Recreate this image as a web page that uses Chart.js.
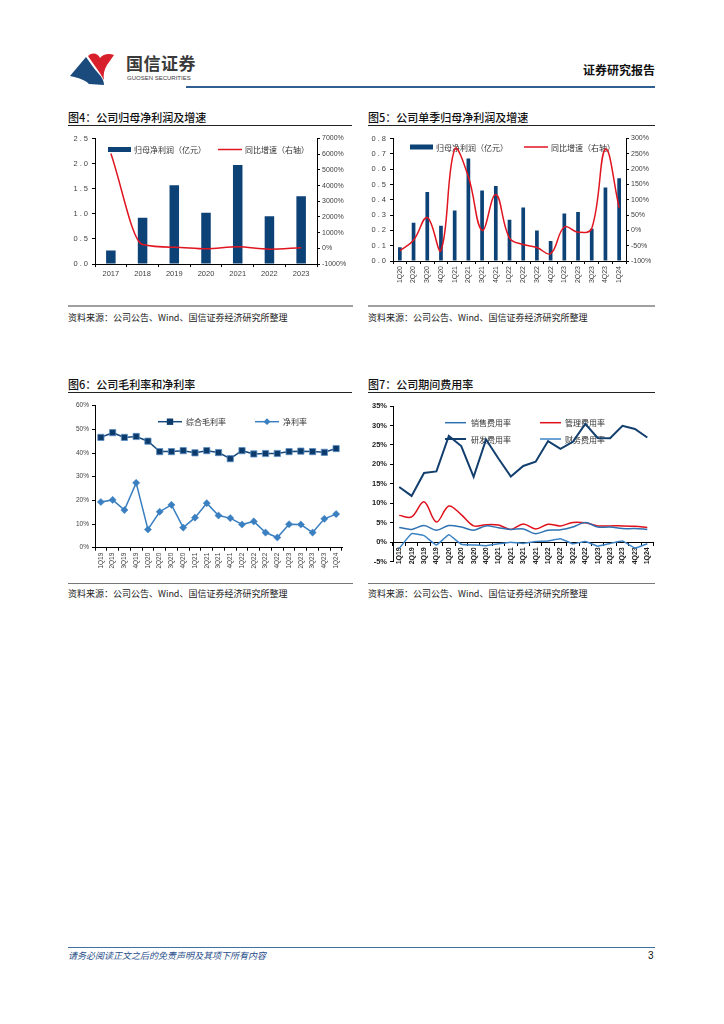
<!DOCTYPE html>
<html>
<head>
<meta charset="utf-8">
<script src="https://cdn.jsdelivr.net/npm/chart.js@4.4.1/dist/chart.umd.min.js"></script>
<style>
body { margin: 0; width: 724px; height: 1024px; position: relative; overflow: hidden; background: #fff; font-family: "Noto Sans CJK SC", sans-serif; }
.abs { position: absolute; white-space: nowrap; }
.title { font-size: 11px; font-weight: 500; color: #111; line-height: 16px; }
.rule { height: 1px; background: #222; }
.src-rule-a { height: 2px; background: #a0a0a0; }
.src-rule-b { height: 1px; background: #777; }
.src { font-size: 9px; color: #222; line-height: 12px; }
canvas { position: absolute; }
</style>
</head>
<body>

<!-- header -->
<svg class="abs" style="left:68px;top:50px" width="50" height="38" viewBox="68 50 50 38">
  <path d="M70,76 L86,57 C90,62 93,68 98,73 C102,77 104,81 104,85 L89,84 C85,80 79,78 70,76 Z" fill="#1b4a7c"/>
  <path d="M88,56 C92,52 98,53 100,58 C103,54 109,53 114,55 L107,65 C104,70 103,75 104,80 C100,72 94,65 88,56 Z" fill="#d8202c"/>
</svg>
<div class="abs" style="left:126px;top:52px;font-size:17px;font-weight:bold;color:#3a3a3a;letter-spacing:0.5px;line-height:22px">国信证券</div>
<div class="abs" style="left:127px;top:74px;font-size:6px;color:#3a3a3a;font-family:'Liberation Sans',Arial;line-height:8px">GUOSEN SECURITIES</div>
<div class="abs" style="left:583px;top:62px;font-size:12px;font-weight:bold;color:#111;line-height:16px">证券研究报告</div>
<div class="abs" style="left:186px;top:86px;width:469px;height:2px;background:#2d5f91"></div>

<!-- chart 4 / 5 titles -->
<div class="abs title" style="left:68px;top:109px">图4：公司归母净利润及增速</div>
<div class="abs rule" style="left:68px;top:125px;width:284px"></div>
<div class="abs title" style="left:368px;top:109px">图5：公司单季归母净利润及增速</div>
<div class="abs rule" style="left:368px;top:125px;width:287px"></div>

<canvas id="c4" width="300" height="165" style="left:60px;top:130px"></canvas>
<canvas id="c5" width="300" height="165" style="left:360px;top:130px"></canvas>

<div class="abs src-rule-a" style="left:68px;top:305px;width:285px"></div>
<div class="abs src" style="left:68px;top:312px">资料来源：公司公告、Wind、国信证券经济研究所整理</div>
<div class="abs src-rule-a" style="left:368px;top:305px;width:287px"></div>
<div class="abs src" style="left:368px;top:312px">资料来源：公司公告、Wind、国信证券经济研究所整理</div>

<!-- chart 6 / 7 titles -->
<div class="abs title" style="left:68px;top:376px">图6：公司毛利率和净利率</div>
<div class="abs rule" style="left:68px;top:392px;width:284px"></div>
<div class="abs title" style="left:368px;top:376px">图7：公司期间费用率</div>
<div class="abs rule" style="left:368px;top:392px;width:287px"></div>

<canvas id="c6" width="300" height="185" style="left:60px;top:395px"></canvas>
<canvas id="c7" width="300" height="185" style="left:360px;top:395px"></canvas>

<div class="abs src-rule-b" style="left:68px;top:583px;width:285px"></div>
<div class="abs src" style="left:68px;top:588px">资料来源：公司公告、Wind、国信证券经济研究所整理</div>
<div class="abs src-rule-b" style="left:368px;top:583px;width:287px"></div>
<div class="abs src" style="left:368px;top:588px">资料来源：公司公告、Wind、国信证券经济研究所整理</div>

<!-- footer -->
<div class="abs" style="left:68px;top:947px;width:587px;height:1px;background:#3f6f9f"></div>
<div class="abs" style="left:68px;top:950px;font-size:9px;font-style:italic;color:#2b4f8a;line-height:12px">请务必阅读正文之后的免责声明及其项下所有内容</div>
<div class="abs" style="left:648px;top:950px;font-size:10px;color:#111;font-family:'Liberation Sans',Arial;line-height:12px">3</div>

<script>
// 图4 年度
const years = ['2017', '2018', '2019', '2020', '2021', '2022', '2023'];
const annualProfit = [0.27, 0.92, 1.57, 1.02, 1.97, 0.95, 1.35];
const annualYoY = [6050, 240, 71, -35, 93, -52, 42];

// 图5 单季
const quarters20 = ['1Q20', '2Q20', '3Q20', '4Q20', '1Q21', '2Q21', '3Q21', '4Q21', '1Q22', '2Q22',
    '3Q22', '4Q22', '1Q23', '2Q23', '3Q23', '4Q23', '1Q24'];
const quarterProfit = [0.09, 0.25, 0.45, 0.23, 0.33, 0.67, 0.46, 0.49, 0.27, 0.35, 0.20, 0.13, 0.31, 0.32, 0.21, 0.48, 0.54];
const quarterYoY = [-67, -32, 42, -65, 265, 175, 0, 117, -25, -46, -56, -76, 11, -6, 6, 265, 74];

// 图6 / 图7 季度
const quarters19 = ['1Q19', '2Q19', '3Q19', '4Q19', '1Q20', '2Q20', '3Q20', '4Q20', '1Q21', '2Q21', '3Q21',
    '4Q21', '1Q22', '2Q22', '3Q22', '4Q22', '1Q23', '2Q23', '3Q23', '4Q23', '1Q24'];
const grossMargin = [46.6, 48.6, 46.6, 47.0, 45.0, 40.6, 40.6, 41.0, 40.1, 41.0, 40.2, 37.6, 41.0, 39.6, 39.8, 39.8, 40.6, 40.8, 40.6, 40.3, 41.9];
const netMargin = [19.3, 20.2, 15.9, 27.4, 7.7, 15.2, 18.1, 8.5, 12.7, 18.8, 13.6, 12.5, 9.8, 11.1, 6.4, 4.3, 9.9, 9.8, 6.4, 12.2, 14.2];

const salesRate = [3.8, 3.3, 4.3, 3.1, 4.3, 3.9, 3.1, 4.2, 3.7, 3.3, 3.4, 2.2, 3.1, 3.2, 3.9, 5.1, 3.9, 3.9, 3.5, 3.5, 3.3];
const adminRate = [6.9, 6.5, 10.4, 5.2, 9.3, 7.1, 4.2, 4.5, 4.4, 3.3, 4.7, 3.4, 4.6, 4.2, 5.1, 5.0, 4.2, 4.2, 4.2, 4.1, 3.8];
const rdRate = [14.2, 11.9, 17.8, 18.2, 27.3, 24.7, 16.8, 26.4, 21.5, 16.9, 19.6, 20.7, 26.0, 24.0, 25.8, 30.4, 26.8, 26.7, 29.9, 29.1, 26.9];
const financeRate = [-1.6, 2.2, 1.7, -0.7, 1.9, -0.5, -0.7, -0.9, -0.4, 0.0, -0.3, 0.2, 0.3, 0.9, -0.4, 0.2, -1.0, -0.3, 0.3, -1.5, -0.4];

const numFont = '"Liberation Sans", Arial, sans-serif';
const cjkFont = '"Noto Sans CJK SC", sans-serif';
const tickColor = '#404040';

// legend drawn inside the plot, under the lines
const insideLegend = {
    id: 'insideLegend',
    beforeDatasetsDraw(chart, args, opts) {
        if (!opts.items) return;
        const ctx = chart.ctx;
        ctx.save();
        ctx.font = opts.font || ('8px ' + cjkFont);
        ctx.textBaseline = 'middle';
        opts.items.forEach(it => {
            const ds = chart.data.datasets[it.dataset];
            const w = it.w || 24;
            if (it.kind === 'bar') {
                ctx.fillStyle = ds.backgroundColor;
                ctx.fillRect(it.x, it.y - 2.5, w, 5);
            } else {
                ctx.strokeStyle = ds.borderColor;
                ctx.lineWidth = ds.borderWidth;
                ctx.beginPath();
                ctx.moveTo(it.x, it.y);
                ctx.lineTo(it.x + w, it.y);
                ctx.stroke();
                if (it.marker) {
                    const cx = it.x + w / 2, r = it.marker === 'rect' ? 3.2 : 3.4;
                    ctx.fillStyle = ds.pointBackgroundColor;
                    ctx.beginPath();
                    if (it.marker === 'rect') {
                        ctx.rect(cx - r, it.y - r, 2 * r, 2 * r);
                    } else {
                        ctx.moveTo(cx, it.y - r); ctx.lineTo(cx + r, it.y);
                        ctx.lineTo(cx, it.y + r); ctx.lineTo(cx - r, it.y); ctx.closePath();
                    }
                    ctx.fill();
                }
            }
            ctx.fillStyle = '#333';
            ctx.fillText(ds.label, it.x + w + (it.gap || 3), it.y + 0.5);
        });
        ctx.restore();
    }
};

function fixedWidth(w) { return s => { s.width = w; }; }
function fixedHeight(h) { return s => { s.height = h; }; }

function baseOptions() {
    return {
        responsive: false,
        animation: false,
        plugins: { legend: { display: false }, tooltip: { enabled: false } },
        layout: { padding: { top: 8, right: 0, bottom: 0, left: 0 } }
    };
}

function axisStyle(extra) {
    return Object.assign({
        border: { display: true, color: '#000', width: 1 },
        grid: { display: true, drawOnChartArea: false, color: '#000', tickLength: 3 },
    }, extra);
}

// 图4
let opt4 = baseOptions();
opt4.layout.padding.top = 8;
opt4.scales = {
    x: axisStyle({
        afterFit: fixedHeight(31),
        grid: { drawOnChartArea: false, color: '#000', tickLength: 3, offset: true },
        ticks: { color: tickColor, font: { family: numFont, size: 7.5 }, padding: 2, maxRotation: 0 }
    }),
    y: axisStyle({
        position: 'left', min: 0, max: 2.5,
        afterFit: fixedWidth(35),
        ticks: { stepSize: 0.5, color: tickColor, font: { family: numFont, size: 7.5 }, padding: 4,
            callback: v => v.toFixed(1).split('').join(' ') }
    }),
    y1: axisStyle({
        position: 'right', min: -1000, max: 7000,
        afterFit: fixedWidth(43),
        ticks: { stepSize: 1000, color: tickColor, font: { family: numFont, size: 7 }, padding: 2,
            callback: v => v + '%' }
    })
};
opt4.plugins.insideLegend = {
    font: '8px ' + cjkFont,
    items: [
        { dataset: 1, kind: 'bar', x: 48, y: 19.5, w: 23 },
        { dataset: 0, kind: 'line', x: 158, y: 19.5, w: 24 }
    ]
};
new Chart(document.getElementById('c4'), {
    data: {
        labels: years,
        datasets: [
            { type: 'line', label: '同比增速（右轴）', data: annualYoY, yAxisID: 'y1', order: 1,
              borderColor: '#e01520', borderWidth: 1.5, pointRadius: 0, cubicInterpolationMode: 'monotone' },
            { type: 'bar', label: '归母净利润（亿元）', data: annualProfit, yAxisID: 'y', order: 2,
              backgroundColor: '#0d4277', categoryPercentage: 1, barPercentage: 0.3 }
        ]
    },
    options: opt4,
    plugins: [insideLegend]
});

// 图5
let opt5 = baseOptions();
opt5.scales = {
    x: axisStyle({
        afterFit: fixedHeight(34),
        grid: { drawOnChartArea: false, color: '#000', tickLength: 3, offset: true },
        ticks: { color: tickColor, font: { family: numFont, size: 7 }, padding: 2, minRotation: 90, maxRotation: 90, autoSkip: false }
    }),
    y: axisStyle({
        position: 'left', min: 0, max: 0.8,
        afterFit: fixedWidth(33),
        ticks: { stepSize: 0.1, color: tickColor, font: { family: numFont, size: 7.5 }, padding: 4,
            callback: v => v.toFixed(1).split('').join(' ') }
    }),
    y1: axisStyle({
        position: 'right', min: -100, max: 300,
        afterFit: fixedWidth(34),
        ticks: { stepSize: 50, color: tickColor, font: { family: numFont, size: 7 }, padding: 2,
            callback: v => v + '%' }
    })
};
opt5.plugins.insideLegend = {
    font: '8px ' + cjkFont,
    items: [
        { dataset: 1, kind: 'bar', x: 50, y: 17, w: 23 },
        { dataset: 0, kind: 'line', x: 164, y: 17, w: 24 }
    ]
};
new Chart(document.getElementById('c5'), {
    data: {
        labels: quarters20,
        datasets: [
            { type: 'line', label: '同比增速（右轴）', data: quarterYoY, yAxisID: 'y1', order: 1,
              borderColor: '#e01520', borderWidth: 1.5, pointRadius: 0, tension: 0.4 },
            { type: 'bar', label: '归母净利润（亿元）', data: quarterProfit, yAxisID: 'y', order: 2,
              backgroundColor: '#0d4277', categoryPercentage: 1, barPercentage: 0.27 }
        ]
    },
    options: opt5,
    plugins: [insideLegend]
});

// 图6
let opt6 = baseOptions();
opt6.layout.padding = { top: 10.7, right: 18, bottom: 0, left: 0 };
opt6.scales = {
    x: axisStyle({
        offset: true,
        afterFit: fixedHeight(32.3),
        grid: { drawOnChartArea: false, color: '#000', tickLength: 3, offset: true },
        ticks: { color: tickColor, font: { family: numFont, size: 6.5 }, padding: 2, minRotation: 90, maxRotation: 90, autoSkip: false }
    }),
    y: axisStyle({
        min: 0, max: 60,
        afterFit: fixedWidth(35),
        ticks: { stepSize: 10, color: tickColor, font: { family: numFont, size: 6.5 }, padding: 3,
            callback: v => v + '%' }
    })
};
opt6.plugins.insideLegend = {
    font: '8px ' + cjkFont,
    items: [
        { dataset: 0, kind: 'line', marker: 'rect', x: 98, y: 26.7, w: 24, gap: 4 },
        { dataset: 1, kind: 'line', marker: 'diamond', x: 195, y: 26.7, w: 24, gap: 4 }
    ]
};
new Chart(document.getElementById('c6'), {
    type: 'line',
    data: {
        labels: quarters19,
        datasets: [
            { label: '综合毛利率', data: grossMargin, borderColor: '#174a7c', borderWidth: 1.5,
              pointStyle: 'rect', pointRadius: 4.4, pointBackgroundColor: '#0b3a6b',
              pointBorderColor: '#5d8fc4', pointBorderWidth: 0.8, tension: 0 },
            { label: '净利率', data: netMargin, borderColor: '#3a7fc0', borderWidth: 1.5,
              pointStyle: 'rectRot', pointRadius: 3.6, pointBackgroundColor: '#3a7fc0',
              pointBorderColor: '#3a7fc0', pointBorderWidth: 0.5, tension: 0 }
        ]
    },
    options: opt6,
    plugins: [insideLegend]
});

// 图7
let opt7 = baseOptions();
opt7.layout.padding = { top: 11, right: 6.5, bottom: 18.3, left: 0 };
opt7.scales = {
    x: axisStyle({
        position: { y: 0 },
        offset: true,
        grid: { drawOnChartArea: false, color: '#000', tickLength: 3, offset: true },
        ticks: { color: '#222', font: { family: numFont, size: 7, weight: 'bold' }, padding: 2, minRotation: 90, maxRotation: 90, autoSkip: false }
    }),
    y: axisStyle({
        position: 'left', min: -5, max: 35,
        afterFit: fixedWidth(33),
        ticks: { stepSize: 5, color: '#222', font: { family: numFont, size: 7.5, weight: 'bold' }, padding: 3,
            callback: v => v + '%' }
    })
};
opt7.plugins.insideLegend = {
    font: '8px ' + cjkFont,
    items: [
        { dataset: 1, kind: 'line', x: 85, y: 27.7, w: 21, gap: 5 },
        { dataset: 2, kind: 'line', x: 180, y: 27.7, w: 21, gap: 4 },
        { dataset: 0, kind: 'line', x: 85, y: 44, w: 21, gap: 5 },
        { dataset: 3, kind: 'line', x: 180, y: 44, w: 21, gap: 4 }
    ]
};
new Chart(document.getElementById('c7'), {
    type: 'line',
    data: {
        labels: quarters19,
        datasets: [
            { label: '研发费用率', data: rdRate, borderColor: '#123f6e', borderWidth: 2, pointRadius: 0, tension: 0 },
            { label: '销售费用率', data: salesRate, borderColor: '#2f72b3', borderWidth: 1.5, pointRadius: 0, tension: 0.35 },
            { label: '管理费用率', data: adminRate, borderColor: '#e0101a', borderWidth: 1.5, pointRadius: 0, tension: 0.35 },
            { label: '财务费用率', data: financeRate, borderColor: '#3d84c6', borderWidth: 1.5, pointRadius: 0, tension: 0.1 }
        ]
    },
    options: opt7,
    plugins: [insideLegend]
});
</script>
</body>
</html>
